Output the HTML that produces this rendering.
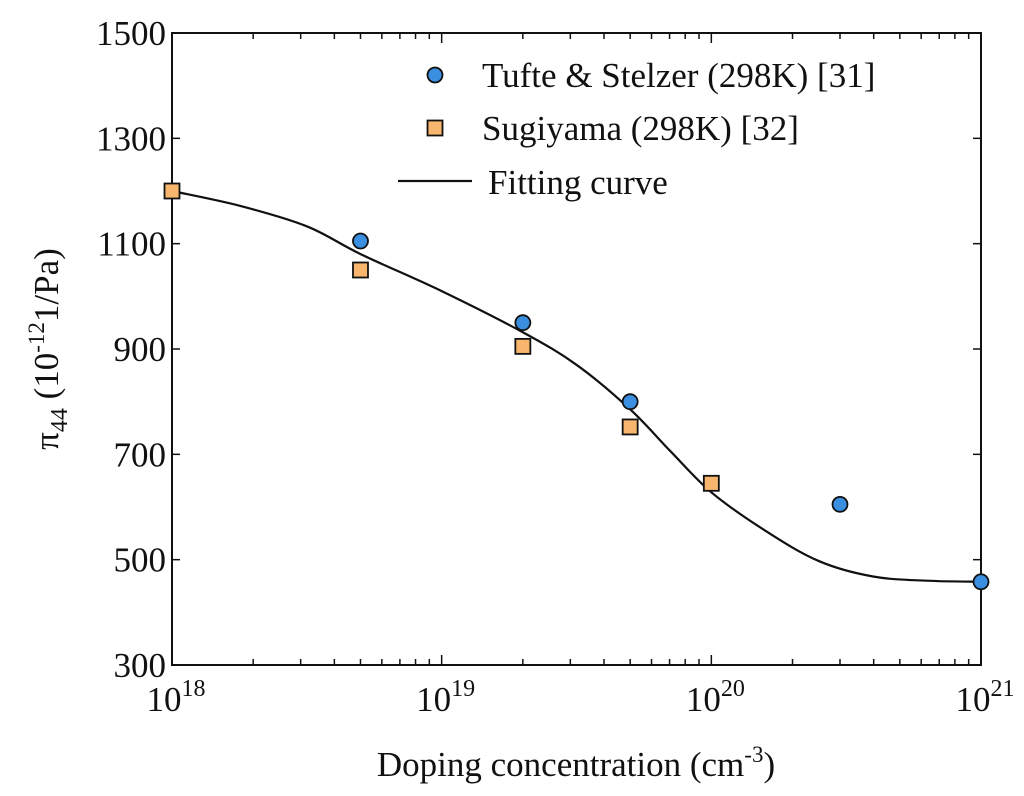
<!DOCTYPE html>
<html><head><meta charset="utf-8"><style>
body{margin:0;background:#fff}
text{font-family:"Liberation Serif",serif;fill:#111}
</style></head><body>
<svg width="1024" height="796" viewBox="0 0 1024 796" style="position:absolute;left:0;top:0">
<g id="g"></g>
</svg>
<script>
const tufteX=[5e18,2e19,5e19,3e20,1e21];
const tufteY=[1105,950,800,605,458];
const sugiX=[1e18,5e18,2e19,5e19,1e20];
const sugiY=[1200,1050,905,752,645];
const fitLogX=[18,18.25,18.5,18.7,19,19.3,19.5,19.7,19.85,20,20.2,20.4,20.6,20.8,21];
const fitY=[1200,1172,1133,1080,1010,932,870,785,705,628,555,497,468,460,458];
const yTicks=[300,500,700,900,1100,1300,1500];
const xDecades=[18,19,20,21];
const L=172,R=981,T=33,B=665;
const xs=v=>L+(Math.log10(v)-18)/3*(R-L);
const xl=l=>L+(l-18)/3*(R-L);
const ys=v=>B-(v-300)/1200*(B-T);
const g=document.getElementById('g');
const NS='http://www.w3.org/2000/svg';
function mk(t,a,p){const e=document.createElementNS(NS,t);for(const k in a)e.setAttribute(k,a[k]);(p||g).appendChild(e);return e;}
let r=mk('rect',{x:L,y:T,width:R-L,height:B-T,fill:'none',stroke:'#111','stroke-width':2});


yTicks.forEach(v=>{
 const y=ys(v);
 let t=mk('line',{x1:L,x2:L+8,y1:y,y2:y,stroke:'#111','stroke-width':1.5});
 
 
 mk('line',{x1:R,x2:R-8,y1:y,y2:y,stroke:'#111','stroke-width':1.5});
 let tx=mk('text',{x:L-6,y:y+12,'text-anchor':'end','font-size':35});
 tx.textContent=v;
 
 
});
xDecades.forEach((d,i)=>{
 const x=xl(d);
 let t=mk('line',{x1:x,x2:x,y1:B,y2:B-10,stroke:'#111','stroke-width':1.5});
 
 
 mk('line',{x1:x,x2:x,y1:T,y2:T+10,stroke:'#111','stroke-width':1.5});
 let tx=mk('text',{x:x+4,y:B+46,'text-anchor':'middle','font-size':35});
 tx.innerHTML='10<tspan dy="-15" font-size="24">'+d+'</tspan>';
 
 
 if(i<3)for(let m=2;m<10;m++){const xm=xl(d+Math.log10(m));
  mk('line',{x1:xm,x2:xm,y1:B,y2:B-6,stroke:'#111','stroke-width':1.5});
  mk('line',{x1:xm,x2:xm,y1:T,y2:T+6,stroke:'#111','stroke-width':1.5});}
});
const P=fitLogX.map((l,i)=>[xl(l),ys(fitY[i])]);
let d='M'+P[0][0]+','+P[0][1];
for(let i=0;i<P.length-1;i++){
 const p0=P[Math.max(0,i-1)],p1=P[i],p2=P[i+1],p3=P[Math.min(P.length-1,i+2)];
 const c1=[p1[0]+(p2[0]-p0[0])/6,p1[1]+(p2[1]-p0[1])/6];
 const c2=[p2[0]-(p3[0]-p1[0])/6,p2[1]-(p3[1]-p1[1])/6];
 d+='C'+c1.map(v=>v.toFixed(1))+' '+c2.map(v=>v.toFixed(1))+' '+p2.map(v=>v.toFixed(1));
}
let p=mk('path',{d:d,fill:'none',stroke:'#111','stroke-width':2.2,'stroke-linejoin':'round'});


tufteX.forEach((x,i)=>{let c=mk('circle',{cx:xs(x),cy:ys(tufteY[i]),r:7.5,fill:'#3a8fe0',stroke:'#111','stroke-width':1.8});
 
 });
sugiX.forEach((x,i)=>{let s=mk('rect',{x:xs(x)-7.5,y:ys(sugiY[i])-7.5,width:15,height:15,fill:'#f7b56e',stroke:'#111','stroke-width':1.8});
 
 });
</script>
<svg width="1024" height="796" style="position:absolute;left:0;top:0">
<g>
<circle cx="435" cy="75" r="7.5" fill="#3a8fe0" stroke="#111" stroke-width="1.8"/>
<text x="482" y="87" font-size="35">Tufte &amp; Stelzer (298K) [31]</text>
<rect x="427.5" y="120.5" width="15" height="15" fill="#f7b56e" stroke="#111" stroke-width="1.8"/>
<text x="482" y="140" font-size="35">Sugiyama (298K) [32]</text>
<line x1="398" x2="472" y1="181" y2="181" stroke="#111" stroke-width="2.2"/>
<text x="488" y="194" font-size="35">Fitting curve</text>
</g>
<text x="576" y="776" text-anchor="middle" font-size="35">Doping concentration (cm<tspan dy="-14" font-size="23">-3</tspan><tspan dy="14">)</tspan></text>
<text transform="translate(58,349) rotate(-90)" text-anchor="middle" font-size="35">π<tspan dy="9" font-size="24">44</tspan><tspan dy="-9"> (10</tspan><tspan dy="-14" font-size="23">-12</tspan><tspan dy="14">1/Pa)</tspan></text>
</svg>
</body></html>
